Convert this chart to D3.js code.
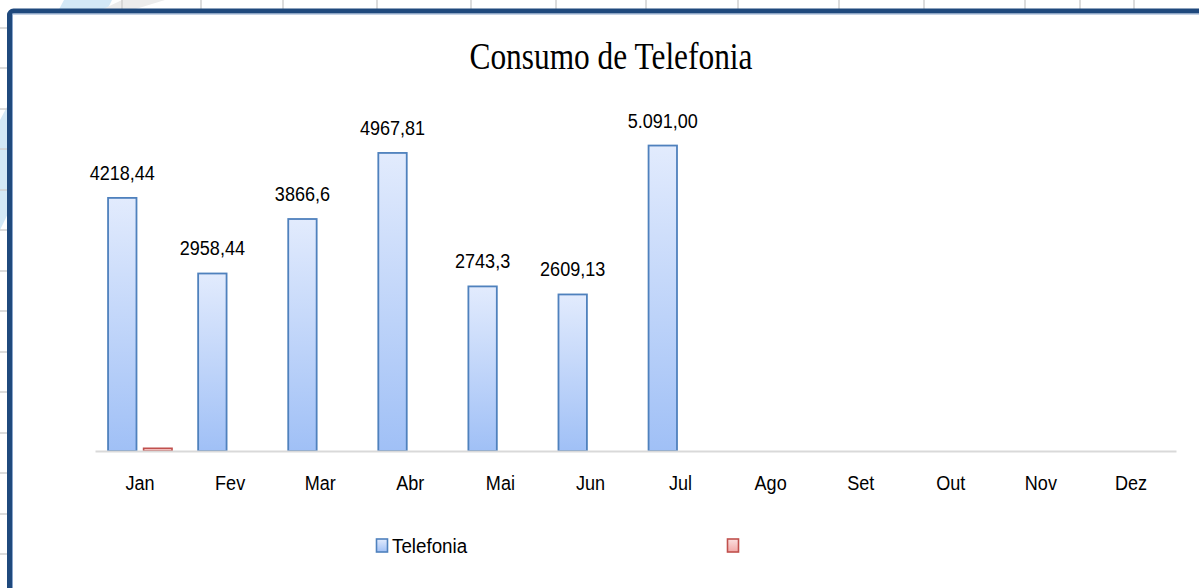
<!DOCTYPE html>
<html>
<head>
<meta charset="utf-8">
<script src="https://cdn.jsdelivr.net/npm/d3@7"></script>
<style>
  html, body { margin: 0; padding: 0; background: #fff; overflow: hidden; }
  svg { display: block; }
</style>
</head>
<body>
<svg id="chart" width="1199" height="588"></svg>
<script>
// ---- data ----
const categories = ["Jan", "Fev", "Mar", "Abr", "Mai", "Jun", "Jul", "Ago", "Set", "Out", "Nov", "Dez"];
const seriesNames = ["Telefonia", ""];
const telefonia = [4218.44, 2958.44, 3866.6, 4967.81, 2743.3, 2609.13, 5091.00, null, null, null, null, null];
const telefoniaLabels = ["4218,44", "2958,44", "3866,6", "4967,81", "2743,3", "2609,13", "5.091,00", "", "", "", "", ""];
const serie2 = [45, null, null, null, null, null, null, null, null, null, null, null];
const yDomain = [0, 6000];
const titleText = "Consumo de Telefonia";

// background spreadsheet grid (decorative)
const gridCols = [122, 201, 283, 377, 471, 556, 646, 738, 839, 924, 1025, 1080, 1134];
const gridRows = [28, 68, 109, 149, 190, 230, 271, 311, 352, 392, 433, 473, 514, 554];

const svg = d3.select("#chart");
const SX = 0.86; // horizontal compression of the Calibri-like texts

const defs = svg.append("defs");
const gBlue = defs.append("linearGradient").attr("id", "gradBlue").attr("x1", 0).attr("y1", 0).attr("x2", 0).attr("y2", 1);
gBlue.append("stop").attr("offset", "0%").attr("stop-color", "#e2ebfd");
gBlue.append("stop").attr("offset", "100%").attr("stop-color", "#a0c0f6");
const gRed = defs.append("linearGradient").attr("id", "gradRed").attr("x1", 0).attr("y1", 0).attr("x2", 0).attr("y2", 1);
gRed.append("stop").attr("offset", "0%").attr("stop-color", "#fbe0e0");
gRed.append("stop").attr("offset", "100%").attr("stop-color", "#f2a8a7");

// decorative background
svg.append("polygon")
  .attr("points", "64,0 112,0 0,230 0,120")
  .attr("fill", "#d3e8f6");
svg.append("polygon")
  .attr("points", "122,0 165,0 100,20 80,20")
  .attr("fill", "#ececec");
svg.selectAll("line.gc").data(gridCols).join("line")
  .attr("x1", d => d).attr("x2", d => d).attr("y1", 0).attr("y2", 10)
  .attr("stroke", "#d0d0d0").attr("stroke-width", 1.5);
svg.selectAll("line.gr").data(gridRows).join("line")
  .attr("x1", 0).attr("x2", 9).attr("y1", d => d).attr("y2", d => d)
  .attr("stroke", "#d0d0d0").attr("stroke-width", 1.5);

// chart frame
svg.append("rect")
  .attr("x", 9.5).attr("y", 11).attr("width", 1400).attr("height", 800)
  .attr("rx", 4).attr("fill", "#fff")
  .attr("stroke", "#1f497d").attr("stroke-width", 5);
svg.append("rect")
  .attr("x", 12.5).attr("y", 14).attr("width", 1400).attr("height", 800)
  .attr("fill", "none").attr("stroke", "#8aa6cc").attr("stroke-width", 1);

// scales
const x0 = d3.scaleBand().domain(categories).range([95, 1176])
  .paddingInner(0.29).paddingOuter(0.145);
const x1 = d3.scaleBand().domain(seriesNames).range([0, x0.bandwidth()])
  .paddingInner(0.2).paddingOuter(0);
const y = d3.scaleLinear().domain(yDomain).range([451, 91]);

// title
svg.append("text")
  .attr("x", 611).attr("y", 69)
  .attr("text-anchor", "middle")
  .attr("font-family", "'Liberation Serif', 'Times New Roman', serif")
  .attr("font-size", 37)
  .attr("textLength", 283).attr("lengthAdjust", "spacingAndGlyphs")
  .attr("fill", "#000")
  .text(titleText);

const labelFont = "'Liberation Sans', Arial, sans-serif";

// bars - Telefonia
const telData = categories.map((c, i) => ({ c, v: telefonia[i], lab: telefoniaLabels[i] })).filter(d => d.v != null);
svg.selectAll("rect.tel").data(telData).join("rect")
  .attr("class", "tel")
  .attr("x", d => x0(d.c) + x1(seriesNames[0]))
  .attr("width", x1.bandwidth())
  .attr("y", d => y(d.v))
  .attr("height", d => y(0) - y(d.v))
  .attr("fill", "url(#gradBlue)")
  .attr("stroke", "#4f81bd").attr("stroke-width", 1.8);

// bars - serie 2
const s2Data = categories.map((c, i) => ({ c, v: serie2[i] })).filter(d => d.v != null);
svg.selectAll("rect.s2").data(s2Data).join("rect")
  .attr("class", "s2")
  .attr("x", d => x0(d.c) + x1(seriesNames[1]))
  .attr("width", x1.bandwidth())
  .attr("y", d => y(d.v))
  .attr("height", d => y(0) - y(d.v))
  .attr("fill", "url(#gradRed)")
  .attr("stroke", "#c0504d").attr("stroke-width", 1.6);

// data labels
svg.selectAll("text.lab").data(telData).join("text")
  .attr("class", "lab")
  .attr("transform", d => `translate(${x0(d.c) + x1(seriesNames[0]) + x1.bandwidth() / 2},${y(d.v) - 18}) scale(${SX},1)`)
  .attr("text-anchor", "middle")
  .attr("font-family", labelFont)
  .attr("font-size", 21)
  .attr("fill", "#000")
  .text(d => d.lab);

// x axis
const xAxis = d3.axisBottom(x0).tickSize(0).tickPadding(0);
const axG = svg.append("g").attr("transform", `translate(0,${y(0)})`).call(xAxis);
axG.select(".domain").attr("stroke", "#d9d9d9").attr("stroke-width", 2);
axG.selectAll(".tick text")
  .attr("y", null).attr("dy", null)
  .attr("transform", `translate(0,39) scale(${SX},1)`)
  .attr("font-family", labelFont)
  .attr("font-size", 21)
  .attr("fill", "#000");

// legend
const legend = svg.append("g");
const legItems = [
  { name: seriesNames[0], x: 376, fill: "url(#gradBlue)", stroke: "#4f81bd" },
  { name: seriesNames[1], x: 727, fill: "url(#gradRed)", stroke: "#c0504d" }
];
const li = legend.selectAll("g").data(legItems).join("g")
  .attr("transform", d => `translate(${d.x},539)`);
li.append("rect").attr("x", 0.5).attr("y", 0).attr("width", 11).attr("height", 13)
  .attr("fill", d => d.fill).attr("stroke", d => d.stroke).attr("stroke-width", 1.6);
li.append("text").attr("transform", `translate(16,14) scale(${SX * 1.04},1)`)
  .attr("font-family", labelFont).attr("font-size", 21).attr("fill", "#000")
  .text(d => d.name);
</script>
</body>
</html>
